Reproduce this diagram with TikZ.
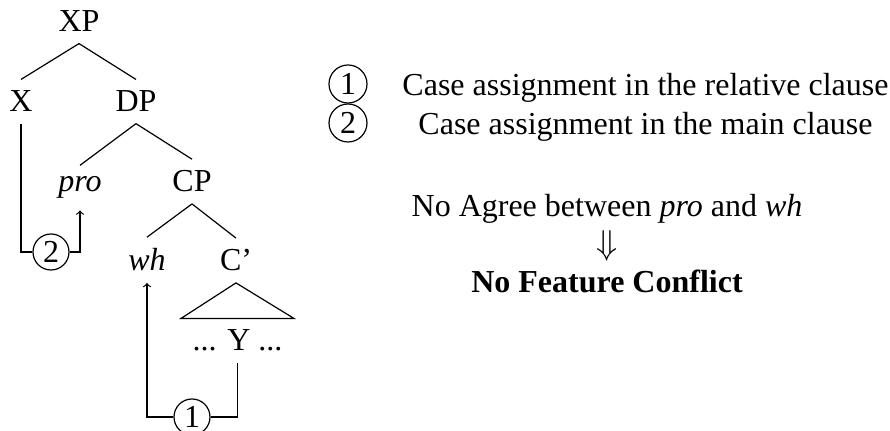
\documentclass[tikz,border=0pt]{standalone}
\usepackage{fontspec}
\setmainfont{Liberation Serif}
\begin{document}
\begin{tikzpicture}[x=0.5pt,y=-0.5pt,line width=0.6pt,
  lbl/.style={anchor=base,inner sep=5.5pt,font=\fontsize{16}{19}\selectfont},
  txt/.style={anchor=base,inner sep=0pt,font=\fontsize{16}{19}\selectfont},
  num/.style={circle,draw,minimum size=18pt,inner sep=0pt,font=\fontsize{16}{19}\selectfont},
  keynum/.style={num,minimum size=19pt},
  arr/.style={->}]
\path[use as bounding box] (0,0) rectangle (890,431);

% tree labels
\node[lbl] (XP)  at (79,32)    {XP};
\node[lbl] (X)   at (21,112)   {X};
\node[lbl] (DP)  at (136,112)  {DP};
\node[lbl] (pro) at (80,192)   {\itshape pro};
\node[lbl] (CP)  at (192,192)  {CP};
\node[lbl] (wh)  at (147,271)  {\itshape wh};
\node[lbl] (Cb)  at (236,271)  {C’};
\node[lbl] (Y)   at (237.5,351) {... Y ...};

% branches
\draw (XP.south) -- (X.north);
\draw (XP.south) -- (DP.north);
\draw (DP.south) -- (pro.north);
\draw (DP.south) -- (CP.north);
\draw (CP.south) -- (wh.north);
\draw (CP.south) -- (Cb.north);
\draw (Cb.south) -- (Y.north west) -- (Y.north east) -- cycle;

% case assignment paths
\node[num] (c2) at (51,252)  {2};
\node[num] (c1) at (192,417) {1};
\draw (X.south) |- (c2.west);
\draw[arr] (c2.east) -| (pro.south);
\draw (Y.south) |- (c1.east);
\draw[arr] (c1.west) -| (wh.south);

% key
\node[keynum] (k1) at (348,84)  {1};
\node[keynum] (k2) at (348,123) {2};
\node[txt] (t1) at (645.5,96)  {Case assignment in the relative clause};
\node[txt] (t2) at (645.5,135) {Case assignment in the main clause};

% conclusion
\node[txt] (agree) at (607,217) {No Agree between \textit{pro} and \textit{wh}};
\node[inner sep=0pt,font=\fontsize{16}{19}\selectfont] (imp) at (607,245.5) {$\Downarrow$};
\node[txt] (res) at (607,293) {\bfseries No Feature Conflict};
\end{tikzpicture}
\end{document}
